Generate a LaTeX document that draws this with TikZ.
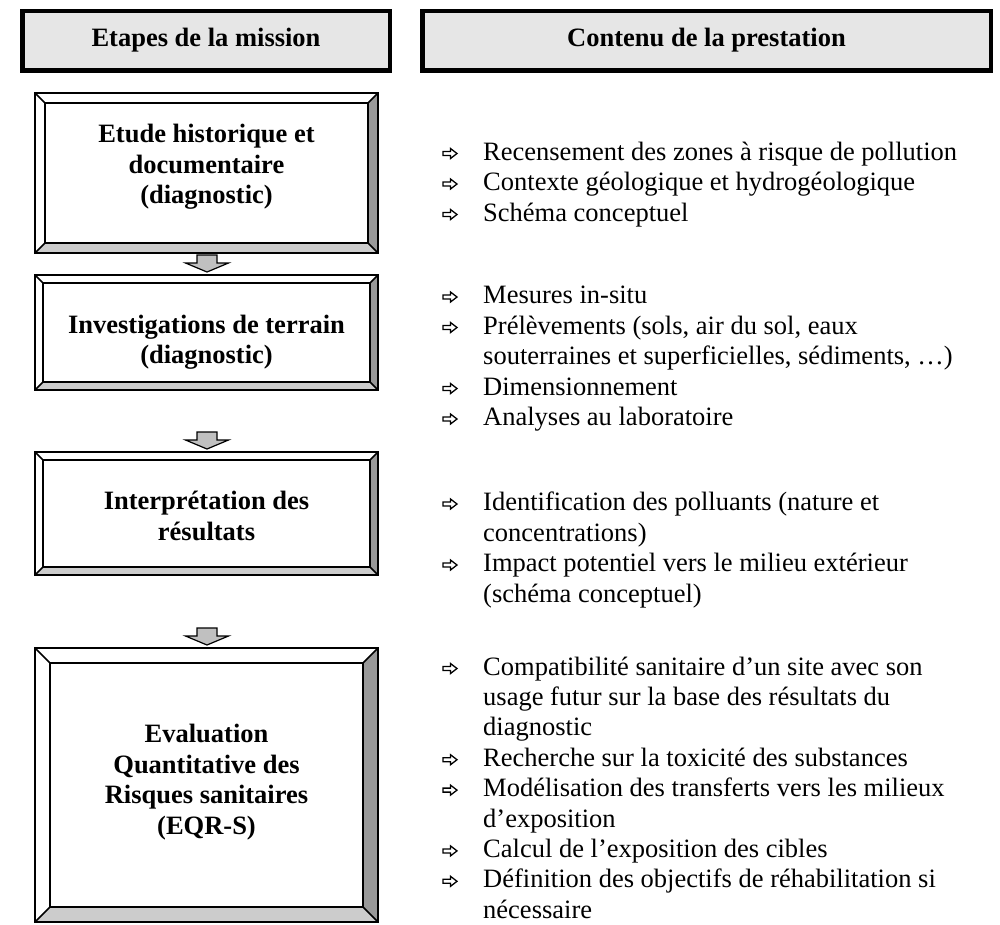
\documentclass[tikz,border=0pt]{standalone}
\usepackage{fontspec}
\setmainfont{Liberation Serif}
\definecolor{hdrgray}{HTML}{E6E6E6}
\definecolor{bevdark}{HTML}{999999}
\definecolor{bevlight}{HTML}{CCCCCC}
\definecolor{arrgray}{HTML}{C0C0C0}
\newcommand\bevelbox[2]{%
  \coordinate (#1-inw) at ([shift={(#2,#2)}]#1.north west);
  \coordinate (#1-ine) at ([shift={(-#2,#2)}]#1.north east);
  \coordinate (#1-ise) at ([shift={(-#2,-#2)}]#1.south east);
  \coordinate (#1-isw) at ([shift={(#2,-#2)}]#1.south west);
  \fill[white] (#1.north west) -- (#1.north east) -- (#1-ine) -- (#1-inw) -- cycle;
  \fill[white] (#1.north west) -- (#1-inw) -- (#1-isw) -- (#1.south west) -- cycle;
  \fill[bevdark] (#1.north east) -- (#1.south east) -- (#1-ise) -- (#1-ine) -- cycle;
  \fill[bevlight] (#1.south west) -- (#1.south east) -- (#1-ise) -- (#1-isw) -- cycle;
  \draw[bevline] (#1.north west) rectangle (#1.south east);
  \draw[bevline] (#1-inw) rectangle (#1-ise);
  \draw[bevline] (#1.north west) -- (#1-inw) (#1.north east) -- (#1-ine)
                 (#1.south east) -- (#1-ise) (#1.south west) -- (#1-isw);
}
\newcommand\blockdown[1]{%
  \draw[blockarrow] (#1) ++(-10,0) -- ++(20,0) -- ++(0,8) -- ++(11.5,0)
     -- ++(-21.5,9) -- ++(-21.5,-9) -- ++(11.5,0) -- cycle;
}
% hollow right arrow bullet; #1 = baseline start of the line
\newcommand\bulletat[1]{%
  \draw[bularrow] ([shift={(0,-8.5)}]#1) -- ++(7.5,0) -- ++(0,-3) -- ++(6.5,5)
     -- ++(-6.5,5) -- ++(0,-3) -- ++(-7.5,0) -- cycle;
}
\begin{document}
\begin{tikzpicture}[x=1pt,y=-1pt,
  hdr/.style={draw,line width=4.5pt,fill=hdrgray,minimum height=59.5pt,inner sep=0pt,
    font=\bfseries\fontsize{26.5}{30.5}\selectfont},
  stage/.style={inner sep=0pt,outer sep=0pt,minimum width=343pt},
  stagetext/.style={align=center,inner sep=0pt,font=\bfseries\fontsize{26.5}{30.5}\selectfont},
  item/.style={anchor=base west,inner sep=0pt,font=\fontsize{26.5}{30.5}\selectfont},
  bevline/.style={line width=1.5pt,line join=miter},
  bularrow/.style={draw,line width=1.3pt,line join=miter,fill=white},
  blockarrow/.style={draw,line width=1.2pt,fill=arrgray,line join=miter}]
\useasboundingbox (0,0) rectangle (1000,924);
\fill[white] (0,0) rectangle (1000,924);

% headers
\node[hdr,minimum width=367.5pt] (h1) at (206,40.5) {Etapes de la mission};
\node[hdr,minimum width=568.5pt] (h2) at (706.5,40.5) {Contenu de la prestation};

% stage boxes
\node[stage,minimum height=160pt] (b1) at (206.5,173) {};
\node[stage,minimum height=115pt] (b2) at (206.5,332.5) {};
\node[stage,minimum height=123pt] (b3) at (206.5,513.5) {};
\node[stage,minimum height=274pt] (b4) at (206.5,785) {};
\bevelbox{b1}{10}
\bevelbox{b2}{8}
\bevelbox{b3}{8}
\bevelbox{b4}{15}

\node[stagetext] (t1) at (206.5,167) {Etude historique et\\documentaire\\(diagnostic)};
\node[stagetext] (t2) at (206.5,342) {Investigations de terrain\\(diagnostic)};
\node[stagetext] (t3) at (206.5,516) {Interprétation des\\résultats};
\node[stagetext] (t4) at (206.5,782) {Evaluation\\Quantitative des\\Risques sanitaires\\(EQR-S)};

% block arrows
\coordinate (a1) at ([shift={(0.5,-20)}]b2.north);
\coordinate (a2) at ([shift={(0.5,-20)}]b3.north);
\coordinate (a3) at ([shift={(0.5,-20)}]b4.north);
\blockdown{a1}
\blockdown{a2}
\blockdown{a3}

% right column, group 1
\coordinate (p1) at (443,160); \bulletat{p1}
\node[item] (l1) at (483,160) {Recensement des zones à risque de pollution};
\coordinate (p2) at (443,190.5); \bulletat{p2}
\node[item] (l2) at (483,190.5) {Contexte géologique et hydrogéologique};
\coordinate (p3) at (443,221); \bulletat{p3}
\node[item] (l3) at (483,221) {Schéma conceptuel};
% group 2
\coordinate (p4) at (443,303.5); \bulletat{p4}
\node[item] (l4) at (483,303.5) {Mesures in-situ};
\coordinate (p5) at (443,334); \bulletat{p5}
\node[item] (l5) at (483,334) {Prélèvements (sols, air du sol, eaux};
\node[item] (l6) at (483,364.5) {souterraines et superficielles, sédiments, …)};
\coordinate (p7) at (443,395); \bulletat{p7}
\node[item] (l7) at (483,395) {Dimensionnement};
\coordinate (p8) at (443,425.5); \bulletat{p8}
\node[item] (l8) at (483,425.5) {Analyses au laboratoire};
% group 3
\coordinate (p9) at (443,510.5); \bulletat{p9}
\node[item] (l9) at (483,510.5) {Identification des polluants (nature et};
\node[item] (l10) at (483,541) {concentrations)};
\coordinate (p11) at (443,571.5); \bulletat{p11}
\node[item] (l11) at (483,571.5) {Impact potentiel vers le milieu extérieur};
\node[item] (l12) at (483,602) {(schéma conceptuel)};
% group 4
\coordinate (p13) at (443,675); \bulletat{p13}
\node[item] (l13) at (483,675) {Compatibilité sanitaire d’un site avec son};
\node[item] (l14) at (483,705.4) {usage futur sur la base des résultats du};
\node[item] (l15) at (483,735.8) {diagnostic};
\coordinate (p16) at (443,766.2); \bulletat{p16}
\node[item] (l16) at (483,766.2) {Recherche sur la toxicité des substances};
\coordinate (p17) at (443,796.6); \bulletat{p17}
\node[item] (l17) at (483,796.6) {Modélisation des transferts vers les milieux};
\node[item] (l18) at (483,827) {d’exposition};
\coordinate (p19) at (443,857.4); \bulletat{p19}
\node[item] (l19) at (483,857.4) {Calcul de l’exposition des cibles};
\coordinate (p20) at (443,887.8); \bulletat{p20}
\node[item] (l20) at (483,887.8) {Définition des objectifs de réhabilitation si};
\node[item] (l21) at (483,918.2) {nécessaire};
\end{tikzpicture}
\end{document}
